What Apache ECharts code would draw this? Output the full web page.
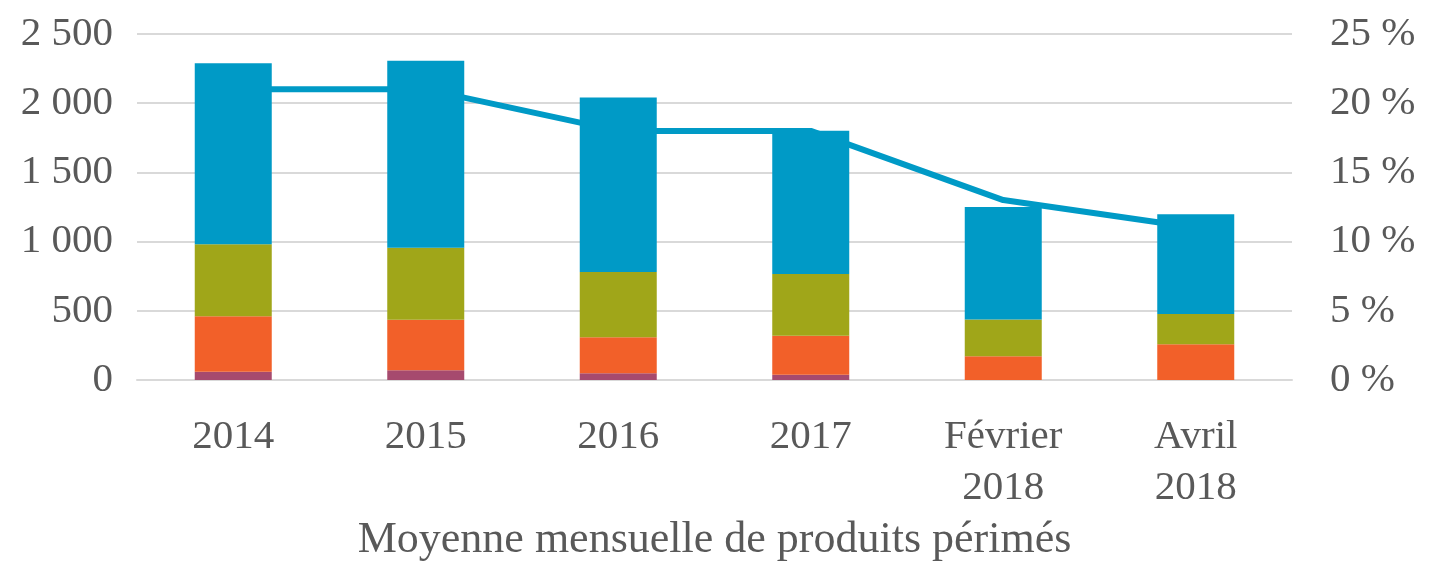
<!DOCTYPE html>
<html>
<head>
<meta charset="utf-8">
<script src="https://cdn.jsdelivr.net/npm/echarts@6/dist/echarts.min.js"></script>
<style>
  html, body { margin: 0; padding: 0; background: #fff; }
  #chart { width: 1429px; height: 563px; }
</style>
</head>
<body>
<div id="chart"></div>
<script>
// categories and values
const categories = ['2014', '2015', '2016', '2017', 'Février\n2018', 'Avril\n2018'];
const purpleVals = [60, 70, 48, 38, 0, 0];
const orangeVals = [400, 366, 260, 282, 171, 258];
const oliveVals = [520, 520, 472, 446, 267, 219];
const blueVals = [1308, 1351, 1262, 1035, 812, 720];
const rateVals = [21, 21, 18, 18, 13, 11];

const leftTicks = [0, 500, 1000, 1500, 2000, 2500];
const rightTicks = [0, 5, 10, 15, 20, 25];

const font = '"Liberation Serif", "DejaVu Serif", serif';
const textColor = '#595959';
const gridColor = '#d9d9d9';

function thousands(v) {
  if (v < 1000) return String(v);
  return Math.floor(v / 1000) + ' ' + String(v % 1000).padStart(3, '0');
}

const chart = echarts.init(document.getElementById('chart'));

function barSeries(name, data, color) {
  return {
    name: name,
    type: 'bar',
    stack: 'total',
    barWidth: '40%',
    data: data,
    z: 2,
    itemStyle: { color: color },
    emphasis: { disabled: true }
  };
}

chart.setOption({
  animation: false,
  textStyle: { fontFamily: font },
  title: {
    text: 'Moyenne mensuelle de produits périmés',
    left: 'center',
    top: 513,
    textStyle: { fontFamily: font, fontSize: 44, fontWeight: 'normal', color: textColor }
  },
  grid: { left: 137, right: 137, top: 34, bottom: 183 },
  xAxis: {
    type: 'category',
    data: categories,
    axisLine: { lineStyle: { color: gridColor, width: 2 } },
    axisTick: { show: false },
    axisLabel: {
      color: textColor, fontFamily: font, fontSize: 41,
      lineHeight: 51, margin: 32, interval: 0
    }
  },
  yAxis: [
    {
      type: 'value',
      min: leftTicks[0],
      max: leftTicks[leftTicks.length - 1],
      interval: 500,
      axisLine: { show: false },
      axisTick: { show: false },
      splitLine: { lineStyle: { color: gridColor, width: 2 } },
      axisLabel: {
        color: textColor, fontFamily: font, fontSize: 41, margin: 24,
        formatter: thousands
      }
    },
    {
      type: 'value',
      min: rightTicks[0],
      max: rightTicks[rightTicks.length - 1],
      interval: 5,
      axisLine: { show: false },
      axisTick: { show: false },
      splitLine: { show: false },
      axisLabel: {
        color: textColor, fontFamily: font, fontSize: 41, margin: 38,
        formatter: v => v + ' %'
      }
    }
  ],
  series: [
    barSeries('Violet', purpleVals, '#a64a6e'),
    barSeries('Orange', orangeVals, '#f26029'),
    barSeries('Olive', oliveVals, '#a0a619'),
    barSeries('Bleu', blueVals, '#009ac6'),
    {
      name: 'Taux',
      type: 'line',
      yAxisIndex: 1,
      data: rateVals,
      symbol: 'none',
      z: 1,
      lineStyle: { color: '#009ac6', width: 6 },
      emphasis: { disabled: true }
    }
  ]
});
</script>
</body>
</html>
